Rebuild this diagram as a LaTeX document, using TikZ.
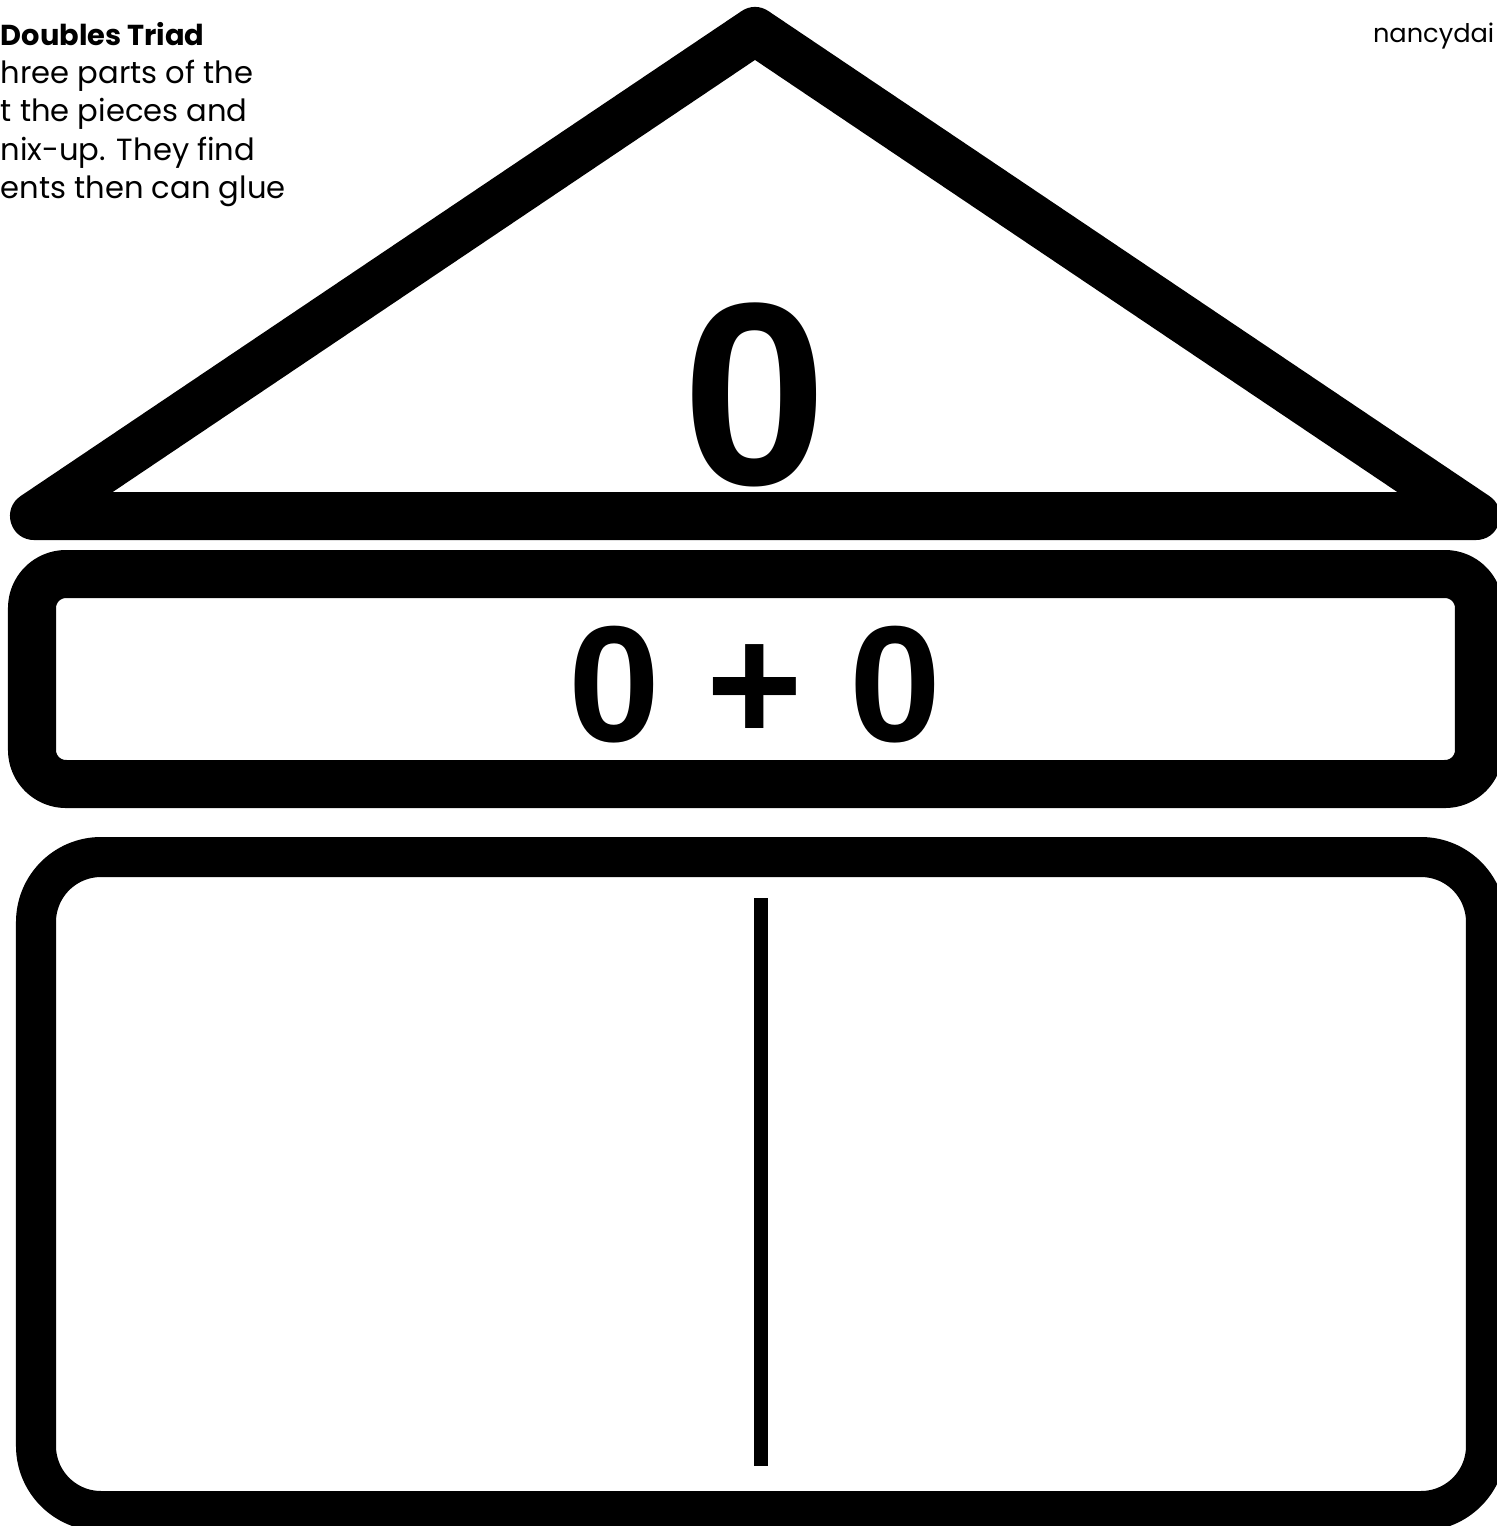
\documentclass[tikz,border=0pt]{standalone}
\usepackage{fontspec}
\setmainfont{Liberation Sans}
\newfontfamily\gothic{Poppins}
\begin{document}
\begin{tikzpicture}[x=0.01cm,y=-0.01cm,line join=round]
\clip (0,0) rectangle (1497,1526);
% roof of the triad
\coordinate (T1) at (34,516);
\coordinate (T2) at (755,31);
\coordinate (T3) at (1476,516);
\draw[line width=0.48cm] (T1) -- (T2) -- (T3) -- cycle;
\node[font=\bfseries\fontsize{74}{74}\selectfont] (sum) at (755,395) {0};
% middle bar
\draw[line width=0.48cm,rounded corners=0.34cm] (32,574) rectangle (1479,784);
\node[font=\bfseries\fontsize{47}{47}\selectfont] (addends) at (755,685) {0 + 0};
% bottom box
\draw[line width=0.4cm,rounded corners=0.65cm] (36,857) rectangle (1486,1511);
\coordinate (D1) at (761,898);
\coordinate (D2) at (761,1466);
\draw[line width=0.14cm] (D1) -- (D2);
% texts in the corners
\tikzset{note/.style={anchor=base west,inner sep=0pt,font=\gothic\fontsize{8.7}{10}\selectfont}}
\node[note,font=\gothic\bfseries\fontsize{8.2}{10}\selectfont] (title) at (0,45) {Doubles Triad};
\node[note] (line1) at (0,83) {hree parts of the};
\node[note] (line2) at (0,121) {t the pieces and};
\node[note] (line3) at (0,160) {nix-up. They find};
\node[note] (line4) at (0,198) {ents then can glue};
\node[anchor=base east,inner sep=0pt,font=\gothic\fontsize{7.3}{9}\selectfont] (site) at (1495,42) {nancydai};
\end{tikzpicture}
\end{document}
